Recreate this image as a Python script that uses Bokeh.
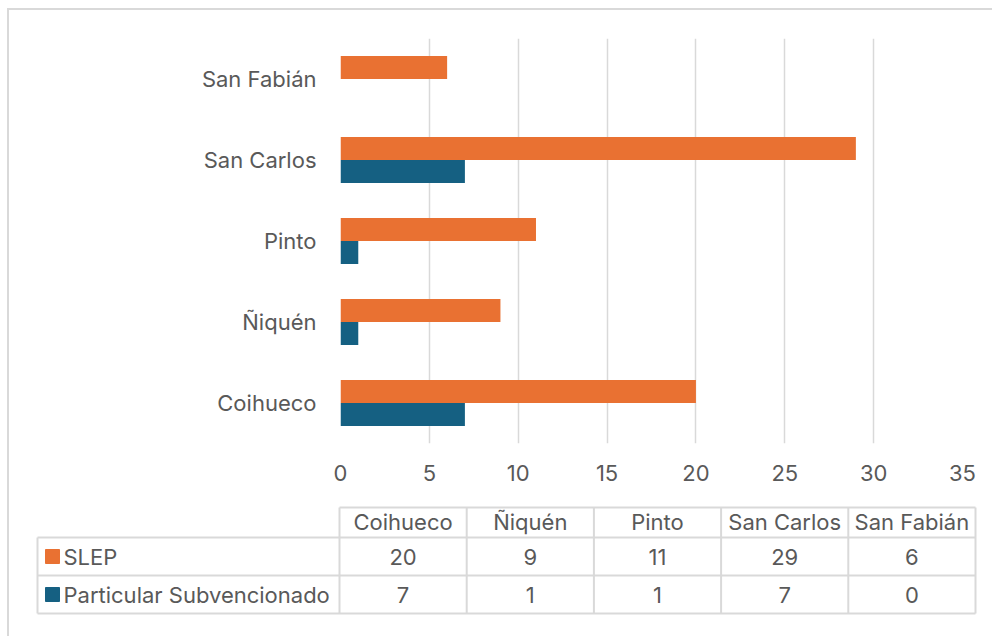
from bokeh.plotting import figure
from bokeh.models import FactorRange, Range1d, ColumnDataSource, FixedTicker
from bokeh.transform import dodge
from bokeh.layouts import column
from bokeh.core.properties import value
from bokeh.embed import file_html
from bokeh.resources import INLINE

# ---- data ----
categories = ["Coihueco", "Ñiquén", "Pinto", "San Carlos", "San Fabián"]
slep = [20, 9, 11, 29, 6]
particular = [7, 1, 1, 7, 0]
series_names = ["SLEP", "Particular Subvencionado"]
x_ticks = [0, 5, 10, 15, 20, 25, 30, 35]

# ---- style ----
ORANGE = "#E97132"
BLUE = "#156082"
TXT = "#595959"
GRID = "#d9d9d9"
FONT = "Inter"
FS = "22px"
W = 983

src = ColumnDataSource(dict(cat=categories, slep=slep, part=particular))

p = figure(
    y_range=FactorRange(*categories),
    x_range=Range1d(0, 35),
    width=W, height=485,
    output_backend="svg", toolbar_location=None,
    min_border_left=331, min_border_right=30,
    min_border_top=28, min_border_bottom=52,
)
p.frame_align = False
bar_h = 0.284
p.hbar(y=dodge("cat", bar_h / 2, range=p.y_range), right="slep", left=0,
       height=bar_h, fill_color=ORANGE, line_color=None, source=src)
p.hbar(y=dodge("cat", -bar_h / 2, range=p.y_range), right="part", left=0,
       height=bar_h, fill_color=BLUE, line_color=None, source=src)

p.outline_line_color = None
p.ygrid.grid_line_color = None
p.xgrid.grid_line_color = GRID
p.xgrid.grid_line_width = 1.5
p.xaxis.ticker = FixedTicker(ticks=x_ticks)
for ax in (p.xaxis[0], p.yaxis[0]):
    ax.axis_line_color = None
    ax.major_tick_line_color = None
    ax.minor_tick_line_color = None
    ax.major_label_text_font = FONT
    ax.major_label_text_font_size = FS
    ax.major_label_text_color = TXT
p.xaxis.major_label_standoff = 15
p.yaxis.major_label_standoff = 18

# ---- data table below the chart ----
TW, TH = W, 141
t = figure(width=TW, height=TH, x_range=Range1d(0, TW), y_range=Range1d(TH, 0),
           output_backend="svg", toolbar_location=None,
           min_border=0, min_border_left=0, min_border_right=0,
           min_border_top=0, min_border_bottom=0)
t.frame_align = False
t.axis.visible = False
t.grid.visible = False
t.outline_line_color = None

col0 = 330.0
col_w = 127.2
lab_left = 28.0
n = len(categories)
right_edge = col0 + n * col_w
y_head_top, y_row1, y_row2, y_bot = 12, 42, 80, 118

# horizontal lines
hx0 = [col0, lab_left, lab_left, lab_left]
hx1 = [right_edge] * 4
hy = [y_head_top, y_row1, y_row2, y_bot]
t.segment(x0=hx0, y0=hy, x1=hx1, y1=hy, line_color=GRID, line_width=2)
# vertical lines
vx = [lab_left] + [col0 + i * col_w for i in range(n + 1)]
vy0 = [y_row1] + [y_head_top] * (n + 1)
vy1 = [y_bot] * (n + 2)
t.segment(x0=vx, y0=vy0, x1=vx, y1=vy1, line_color=GRID, line_width=2)

centers = [col0 + (i + 0.5) * col_w for i in range(n)]
t.text(x=centers, y=[(y_head_top + y_row1) / 2 - 1] * n, text=categories,
       text_align="center", text_baseline="middle", text_font=value(FONT),
       text_font_size=FS, text_color=TXT)
t.text(x=centers, y=[(y_row1 + y_row2) / 2] * n, text=[str(v) for v in slep],
       text_align="center", text_baseline="middle", text_font=value(FONT),
       text_font_size=FS, text_color=TXT)
t.text(x=centers, y=[(y_row2 + y_bot) / 2] * n, text=[str(v) for v in particular],
       text_align="center", text_baseline="middle", text_font=value(FONT),
       text_font_size=FS, text_color=TXT)

# legend keys
t.scatter(x=[lab_left + 15] * 2, y=[(y_row1 + y_row2) / 2, (y_row2 + y_bot) / 2],
          marker="square", size=14, color=[ORANGE, BLUE])
t.text(x=[lab_left + 26] * 2, y=[(y_row1 + y_row2) / 2, (y_row2 + y_bot) / 2],
       text=series_names, text_align="left", text_baseline="middle",
       text_font=value(FONT), text_font_size=FS, text_color=TXT)

layout = column(p, t, spacing=0,
                styles={"border-left": "2px solid #d9d9d9",
                        "border-top": "2px solid #d9d9d9",
                        "margin-left": "7px", "margin-top": "8px"})

open("out.html", "w").write(file_html(layout, INLINE))
